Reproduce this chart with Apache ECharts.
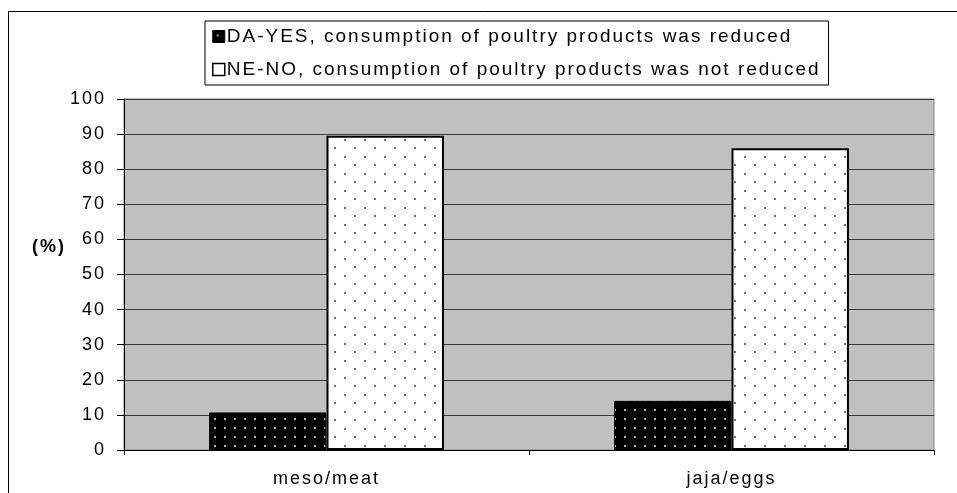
<!DOCTYPE html>
<html><head><meta charset="utf-8">
<script src="https://cdn.jsdelivr.net/npm/echarts@6/dist/echarts.min.js"></script>
<style>html,body{margin:0;padding:0;background:#fff}#c{width:957px;height:493px}</style>
</head><body><div id="c"></div>
<script>
var categories = ['meso/meat', 'jaja/eggs'];
var seriesNames = ['DA-YES, consumption of poultry products was reduced', 'NE-NO, consumption of poultry products was not reduced'];
var daValues = [10.7, 14.0];
var neValues = [89.5, 86.0];
var yTicks = [0, 10, 20, 30, 40, 50, 60, 70, 80, 90, 100];

// widen text spacing like the original
(function () {
  var p = CanvasRenderingContext2D.prototype;
  var f = p.fillText, m = p.measureText, s = p.strokeText;
  function sp(ctx) { try { ctx.letterSpacing = '2px'; } catch (e) {} }
  p.fillText = function () { sp(this); return f.apply(this, arguments); };
  p.strokeText = function () { sp(this); return s.apply(this, arguments); };
  p.measureText = function () { sp(this); return m.apply(this, arguments); };
})();

function makePattern(bg, dot, staggered) {
  var c = document.createElement('canvas');
  var w = staggered ? 20 : 10, h = staggered ? 17 : 9;
  c.width = w; c.height = h;
  var g = c.getContext('2d');
  g.fillStyle = bg; g.fillRect(0, 0, w, h);
  g.fillStyle = dot;
  if (staggered) {
    g.fillRect(4, 3, 2, 2);
    g.fillRect(14, 11, 2, 2);
  } else {
    g.fillRect(4, 4, 2, 2);
  }
  return c;
}
var blackPat = { image: makePattern('#000', '#a8a8a8', false), repeat: 'repeat' };
var whitePat = { image: makePattern('#fff', '#707070', true), repeat: 'repeat' };

var chart = echarts.init(document.getElementById('c'), null, { renderer: 'canvas' });
var font = 'Liberation Sans, Arial, sans-serif';
chart.setOption({
  animation: false,
  textStyle: { fontFamily: font },
  graphic: [
    { type: 'rect', shape: { x: 8.5, y: 11.5, width: 1200, height: 1000 }, style: { fill: 'none', stroke: '#000', lineWidth: 1 }, z: -10 },
    { type: 'text', left: 32, top: 237, style: { text: '(%)', font: 'bold 18px ' + font, fill: '#000' } }
  ],
  legend: {
    orient: 'vertical', left: 205, top: 21,
    borderColor: '#000', borderWidth: 1, padding: [5, 8, 5, 7],
    itemGap: 12, itemWidth: 12, itemHeight: 12, icon: 'rect',
    textStyle: { fontSize: 19, color: '#000', fontFamily: font, lineHeight: 20, padding: [0, 0, 0, -3] },
    data: [
      { name: seriesNames[0], itemStyle: { color: blackPat, borderColor: '#000', borderWidth: 1 } },
      { name: seriesNames[1], itemStyle: { color: '#fff', borderColor: '#000', borderWidth: 1.5 } }
    ]
  },
  grid: { left: 124, right: 23, top: 99, bottom: 43, show: true, backgroundColor: '#c0c0c0', borderColor: '#808080', borderWidth: 1 },
  xAxis: {
    type: 'category', data: categories,
    axisLine: { lineStyle: { color: '#000', width: 1 } },
    axisTick: { show: true, length: 5, lineStyle: { color: '#000' } },
    axisLabel: { fontSize: 18, color: '#000', margin: 19, fontFamily: font }
  },
  yAxis: {
    type: 'value', min: yTicks[0], max: yTicks[yTicks.length - 1], interval: 10,
    axisLine: { show: true, lineStyle: { color: '#000' } },
    axisTick: { show: true, length: 7, lineStyle: { color: '#000' } },
    axisLabel: { fontSize: 18, color: '#000', margin: 18, fontFamily: font },
    splitLine: { show: true, lineStyle: { color: '#3a3a3a', width: 1 } }
  },
  series: [
    { name: seriesNames[0], type: 'bar', data: daValues, barGap: '0%', barCategoryGap: '42%',
      itemStyle: { color: blackPat, borderColor: '#000', borderWidth: 1 } },
    { name: seriesNames[1], type: 'bar', data: neValues, barGap: '0%', barCategoryGap: '42%',
      itemStyle: { color: whitePat, borderColor: '#000', borderWidth: 2 } }
  ]
});
</script></body></html>
